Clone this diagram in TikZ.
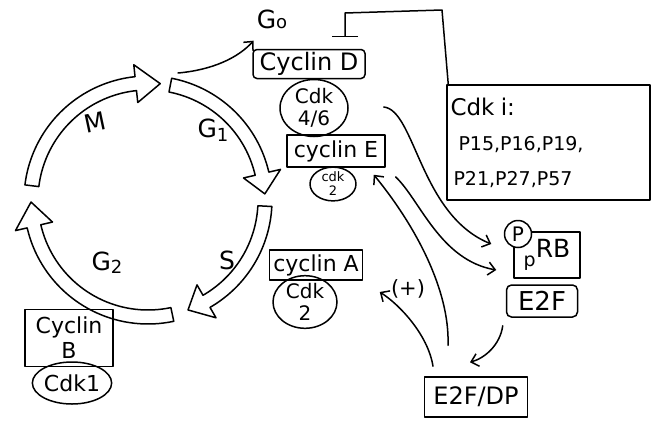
\documentclass[tikz,border=0pt]{standalone}
\usepackage{fontspec}
\setmainfont{DejaVu Sans}
\usetikzlibrary{arrows.meta,shapes.geometric}

% cell-cycle ring: centre, inner/outer/middle radius, barb overhang
\def\cycx{148}\def\cycy{200}
\def\rin{110}\def\rout{124}\def\rmid{117}\def\barb{12}

% hollow curved arrow along the ring: #1 start angle, #2 head base angle, #3 tip angle
\newcommand{\phasearrow}[3]{%
  \draw[phase] plot[domain=#1:#2,samples=40] ({\cycx+\rout*cos(\x)},{\cycy+\rout*sin(\x)})
    -- ({\cycx+(\rout+\barb)*cos(#2)},{\cycy+(\rout+\barb)*sin(#2)})
    -- ({\cycx+\rmid*cos(#3)},{\cycy+\rmid*sin(#3)})
    -- ({\cycx+(\rin-\barb)*cos(#2)},{\cycy+(\rin-\barb)*sin(#2)})
    -- plot[domain=#2:#1,samples=40] ({\cycx+\rin*cos(\x)},{\cycy+\rin*sin(\x)})
    -- cycle;}

\newcommand{\fs}[1]{\fontsize{#1}{#1}\selectfont}

\begin{document}
\begin{tikzpicture}[x=1pt,y=-1pt,
  ink/.style={line width=1.5pt, line cap=round, line join=round},
  lbl/.style={font=\fs{25}, inner sep=0pt},
  box/.style={ink, draw, inner sep=0pt, align=center, font=\fs{22}},
  blob/.style={ink, draw, ellipse, inner sep=0pt, align=center, font=\fontsize{20}{22}\selectfont},
  link/.style={ink, -{Straight Barb[length=7pt,width=13pt]}},
  inhibit/.style={ink, -{Bar[width=26pt]}},
  phase/.style={ink, draw, fill=white},
]
\useasboundingbox (0,0) rectangle (660,423);

% the four phases
\phasearrow{187}{264}{276}
\phasearrow{281}{347}{357}
\phasearrow{3}{60}{70}
\phasearrow{78}{167}{179}

\node[lbl, rotate=12] (mlab) at (95,122) {M};
\node[lbl] (g1lab) at (213,130) {G\raisebox{-4pt}{\fs{18}1}};
\node[lbl] (slab) at (227,260) {S};
\node[lbl] (g2lab) at (107,263) {G\raisebox{-3pt}{\fs{18}2}};
\node[lbl] (go) at (272,19) {G{\fs{18}o}};

% cyclin / cdk complexes
\node[box, rounded corners=4pt, minimum width=112pt, minimum height=29pt, font=\fs{24}] (cycD) at (309,64) {Cyclin D};
\node[blob, minimum width=68pt, minimum height=57pt] (cdk46) at (314,108) {Cdk\\4/6};
\node[box, minimum width=98pt, minimum height=32pt] (cycE) at (336,151) {cyclin E};
\node[blob, minimum width=46pt, minimum height=33pt, font=\fontsize{13}{14}\selectfont] (cdk2e) at (333,184) {cdk\\2};
\node[box, minimum width=93pt, minimum height=30pt] (cycA) at (316,265) {cyclin A};
\node[blob, minimum width=64pt, minimum height=44pt] (cdk2a) at (305,302) {Cdk\\2};
\node[box, minimum width=88pt, minimum height=57pt, font=\fontsize{22}{25}\selectfont] (cycB) at (69,338) {Cyclin\\B};
\node[blob, minimum width=68pt, minimum height=42pt, font=\fs{22}] (cdk1) at (72,383) {Cdk1};

% inhibitors
\node[box, minimum width=203pt, minimum height=115pt, align=left, text width=196pt,
      font=\fontsize{19}{35}\selectfont] (cdki) at (548.5,142.5)
      {{\fs{23}Cdk i:}\\\hspace*{8pt}P15,P16,P19,\\\hspace*{3pt}P21,P27,P57};

% RB / E2F
\node[box, minimum width=66pt, minimum height=46pt, font=\fs{25}] (prb) at (547,255)
      {\raisebox{-9pt}{\fs{19}p}RB};
\node[ink, draw, circle, fill=white, inner sep=0pt, minimum size=27pt,
      font=\fs{20}] (phos) at (518,234) {P};
\node[box, rounded corners=5pt, minimum width=71pt, minimum height=32pt, font=\fs{26}] (e2f) at (542,301) {E2F};
\node[box, minimum width=103pt, minimum height=40pt, font=\fs{24}] (e2fdp) at (476,397) {E2F/DP};
\node[lbl, font=\fs{21}] (plus) at (408,289) {(+)};

% connectors
\coordinate (g1top) at (178,73);
\draw[link] (g1top) .. controls (212,70) and (238,58) .. ([shift={(-3,12)}]go.south west);

\coordinate (hookA) at (442,10);
\coordinate (hookB) at (345,13);
\coordinate (barpt) at (345,37);
\draw[inhibit] ([xshift=2pt]cdki.north west) -- (hookA) -- (hookB) -- (barpt);

\draw[link] ([shift={(35,-1)}]cdk46.east) .. controls (415,110) and (420,215) .. ([shift={(-22,-11)}]prb.west);
\draw[link] ([shift={(39,-7)}]cdk2e.east) .. controls (420,200) and (440,260) .. ([shift={(-17,15)}]prb.west);
\draw[link] ([shift={(-28,-31)}]e2fdp.north) .. controls (450,290) and (415,225) .. ([shift={(-12,7)}]cycE.south east);
\draw[link] ([shift={(-43,-10)}]e2fdp.north) .. controls (428,335) and (400,305) .. ([shift={(42,-10)}]cdk2a.east);
\draw[link] ([shift={(-3,8)}]e2f.south west) .. controls (500,345) and (485,358) .. ([shift={(-6,-14)}]e2fdp.north);
\end{tikzpicture}
\end{document}
